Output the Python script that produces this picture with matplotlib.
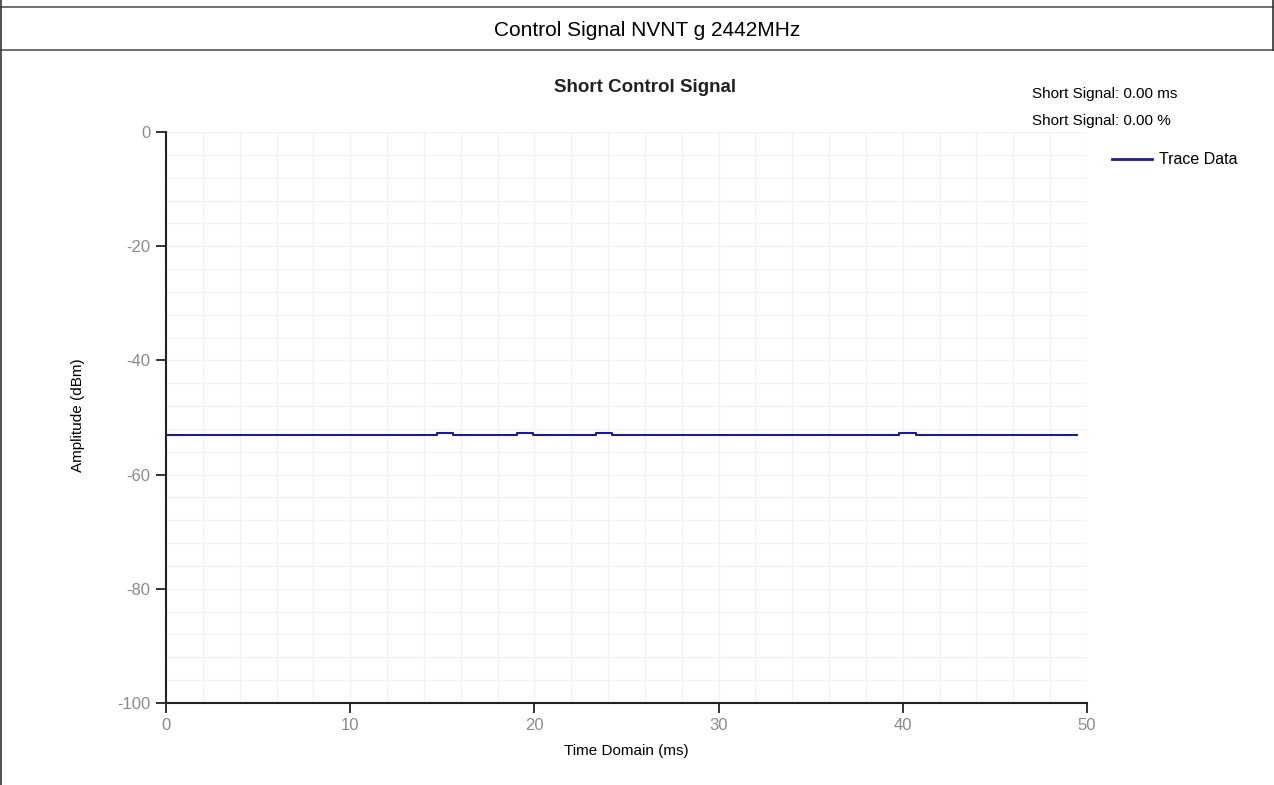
import matplotlib
matplotlib.use("Agg")
import matplotlib.pyplot as plt
from matplotlib.lines import Line2D
from matplotlib.ticker import MultipleLocator

plt.rcParams['font.family'] = ['Liberation Sans', 'DejaVu Sans']
plt.rcParams['axes.unicode_minus'] = False

# step trace: breakpoints in ms and level after each breakpoint (dBm)
time_ms = [0, 14.7, 15.6, 19.05, 19.95, 23.35, 24.2, 39.8, 40.7, 49.45]
amp_dbm = [-53.0, -52.7, -53.0, -52.7, -53.0, -52.7, -53.0, -52.7, -53.0, -53.0]

header = "Control Signal NVNT g 2442MHz"
title = "Short Control Signal"
info_lines = ["Short Signal: 0.00 ms", "Short Signal: 0.00 %"]
legend_label = "Trace Data"

W, H = 1274, 785
fig = plt.figure(figsize=(W / 100, H / 100), dpi=100)
fig.patch.set_facecolor('white')

def fx(px):
    return px / W

def fy(py):
    return 1 - py / H

# table-like frame around the chart
for yy in (7, 50):
    fig.add_artist(Line2D([0, 1], [fy(yy), fy(yy)], color='#555555', lw=1.2))
fig.add_artist(Line2D([fx(1), fx(1)], [0, 1], color='#333333', lw=1.2))
fig.add_artist(Line2D([fx(1273), fx(1273)], [fy(0), fy(50)], color='#333333', lw=1.2))
fig.text(fx(647), fy(30), header, ha='center', va='center', fontsize=15)

ax = fig.add_axes([fx(166), fy(703), fx(1087) - fx(166), fy(132) - fy(703)])
ax.plot(time_ms, amp_dbm, drawstyle='steps-post', color='#1c1c8f', lw=1.5)

ax.set_xlim(0, 50)
ax.set_ylim(-100, 0)
ax.xaxis.set_major_locator(MultipleLocator(10))
ax.yaxis.set_major_locator(MultipleLocator(20))
ax.xaxis.set_minor_locator(MultipleLocator(2))
ax.yaxis.set_minor_locator(MultipleLocator(4))
ax.grid(which='both', color='#f2f2f2', lw=0.9)
ax.set_axisbelow(True)
ax.tick_params(which='minor', length=0)
ax.tick_params(which='major', direction='out', length=7, width=1.3, color='#222222',
               labelcolor='#8a8a8a', labelsize=12, pad=4)
for s in ('top', 'right'):
    ax.spines[s].set_visible(False)
for s in ('left', 'bottom'):
    ax.spines[s].set_color('#222222')
    ax.spines[s].set_linewidth(1.5)

fig.text(fx(645), fy(87), title, ha='center', va='center', fontsize=13.5, fontweight='bold',
         color='#222222')
fig.text(fx(626), fy(751), "Time Domain (ms)", ha='center', va='center', fontsize=11)
fig.text(fx(78), fy(415), "Amplitude (dBm)", ha='center', va='center', fontsize=11,
         rotation=90)

fig.text(fx(1032), fy(94), info_lines[0], ha='left', va='center', fontsize=11)
fig.text(fx(1032), fy(121), info_lines[1], ha='left', va='center', fontsize=11)

fig.add_artist(Line2D([fx(1112), fx(1152)], [fy(159), fy(159)], color='#1c1c8f', lw=2))
fig.text(fx(1159), fy(160), legend_label, ha='left', va='center', fontsize=11.5)

fig.savefig('out.png', dpi=100)
